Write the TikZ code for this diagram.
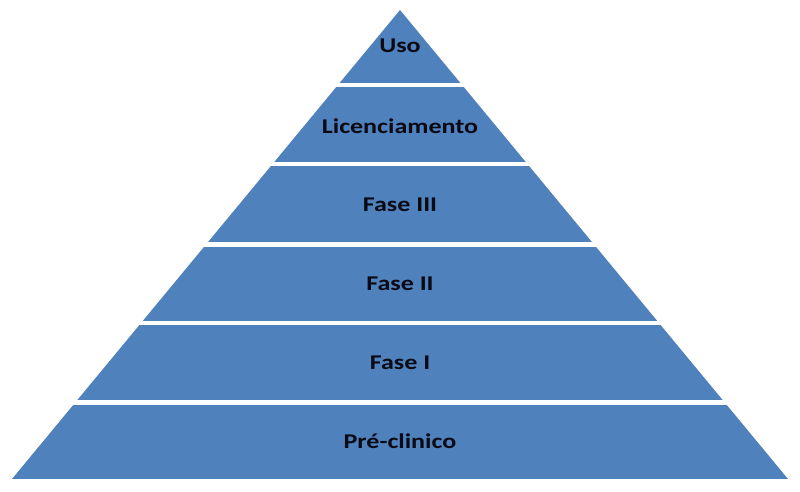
\documentclass[tikz,border=0pt]{standalone}
\usepackage{fontspec}
\setmainfont{Carlito}[FakeStretch=1.24]
\definecolor{pyrblue}{HTML}{4F81BD}
\definecolor{lbltext}{HTML}{0A0A14}
\tikzset{
  lbl/.style={font=\bfseries\fontsize{21}{25}\selectfont, text=lbltext, inner sep=0pt, anchor=center},
  band/.style={fill=pyrblue, draw=none}
}
\begin{document}
\begin{tikzpicture}[x=1pt,y=-1pt]
\useasboundingbox (0,0) rectangle (800,491);
\fill[white] (0,0) rectangle (800,491);
\begin{scope}
  \clip (400,10) -- (12,479) -- (788,479) -- cycle;
  \fill[band] (0,0)     rectangle (800,82.5);
  \fill[band] (0,87)    rectangle (800,161.8);
  \fill[band] (0,166.3) rectangle (800,242);
  \fill[band] (0,246.5) rectangle (800,320.8);
  \fill[band] (0,325.3) rectangle (800,400.3);
  \fill[band] (0,404.8) rectangle (800,479);
\end{scope}
\node[lbl] (uso) at (400,46) {Uso};
\node[lbl] (lic) at (400,126) {Licenciamento};
\node[lbl] (f3)  at (400,205) {Fase III};
\node[lbl] (f2)  at (400,284) {Fase II};
\node[lbl] (f1)  at (400,363) {Fase I};
\node[lbl] (pre) at (400,441) {Pré-clinico};
\end{tikzpicture}
\end{document}
